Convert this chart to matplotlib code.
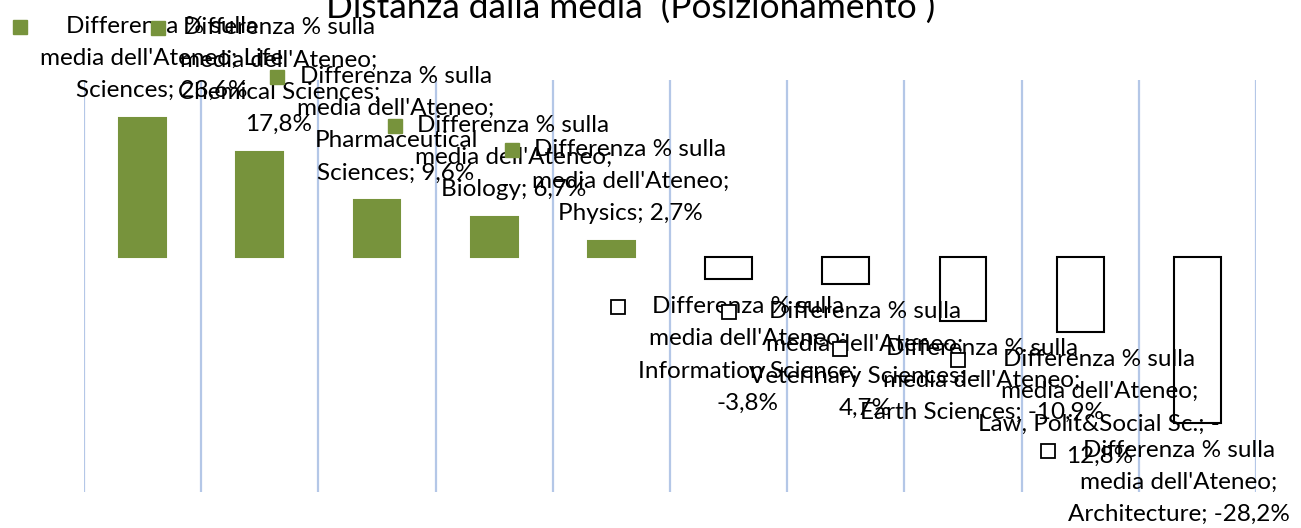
import matplotlib
matplotlib.use("Agg")
import matplotlib.pyplot as plt
from matplotlib.patches import Rectangle
import numpy as np

categories = ["Life Sciences", "Chemical Sciences", "Pharmaceutical Sciences", "Biology", "Physics",
              "Information Science", "Veterinary Sciences", "Earth Sciences",
              "Law, Polit&Social Sc.", "Architecture"]
values = [23.6, 17.8, 9.6, 6.7, 2.7, -3.8, -4.7, -10.9, -12.8, -28.2]

# how the data labels were wrapped in the original
name_lines = ["Life\nSciences", "Chemical Sciences", "Pharmaceutical\nSciences", "Biology", "Physics",
              "Information Science", "Veterinary Sciences", "Earth Sciences",
              "Law, Polit&Social Sc.", "Architecture"]
value_break = ["", "line", "", "", "", "line", "sign", "", "sign", ""]
series_name = "Differenza % sulla\nmedia dell'Ateneo;"
title = "Distanza dalla media  (Posizionamento )"

GREEN = "#77933C"
GRID = "#B4C7E7"
FONT = "Lato"


def label_text(i):
    v = f"{values[i]:.1f}%".replace(".", ",")
    if value_break[i] == "sign":
        v = v.replace("-", "-\n")
    sep = "\n" if value_break[i] == "line" else " "
    head_sep = " " if i == 0 else "\n"
    return series_name + head_sep + name_lines[i] + ";" + sep + v


fig = plt.figure(figsize=(13.01, 5.28), dpi=100)
ax = fig.add_axes([84 / 1301, 36 / 528, 1172 / 1301, 412 / 528])

x = np.arange(len(categories))
cols = [GREEN if v >= 0 else "white" for v in values]
edges = [GREEN if v >= 0 else "black" for v in values]
ax.bar(x, values, width=0.4, color=cols, edgecolor=edges, linewidth=1.5, zorder=3)

ax.set_xlim(-0.5, len(categories) - 0.5)
ax.set_ylim(-40, 30)
ax.set_xticks(np.arange(-0.5, len(categories)), minor=True)
ax.set_xticks([])
ax.set_yticks([])
ax.grid(which="minor", axis="x", color=GRID, linewidth=1.6)
ax.tick_params(which="both", length=0)
for s in ax.spines.values():
    s.set_visible(False)

texts = []
for i, v in enumerate(values):
    if v >= 0:
        t = ax.annotate(label_text(i), (i, v), xytext=(13.7, 12), textcoords="offset points",
                        ha="center", va="bottom", fontsize=17.5, family=FONT,
                        linespacing=1.66, zorder=5)
    else:
        t = ax.annotate(label_text(i), (i, v), xytext=(13.7, -12.3), textcoords="offset points",
                        ha="center", va="top", fontsize=17.5, family=FONT,
                        linespacing=1.66, zorder=5)
    texts.append(t)

fig.text(0.485, 1 - 18 / 528, title, ha="center", va="baseline", fontsize=25.4, family=FONT)

# keep labels inside the chart area, like Excel does
fig.canvas.draw()
r = fig.canvas.get_renderer()
for t in texts:
    bb = t.get_window_extent(r)
    if bb.x1 > 1290:
        dx, dy = t.xyann
        t.xyann = (dx - (bb.x1 - 1290) * 72 / 100, dy)

# legend keys beside each data label
fig.canvas.draw()
for t, v in zip(texts, values):
    bb = t.get_window_extent(r)
    size = 14
    kx = bb.x0 - 13 - size
    ky = bb.y1 - 11 - size / 2
    if v >= 0:
        key = Rectangle((kx, ky), size, size, transform=None, facecolor=GREEN, edgecolor=GREEN)
    else:
        key = Rectangle((kx, ky), size, size, transform=None, facecolor="white",
                        edgecolor="black", linewidth=1.3)
    fig.add_artist(key)

fig.savefig("out.png", dpi=100)
